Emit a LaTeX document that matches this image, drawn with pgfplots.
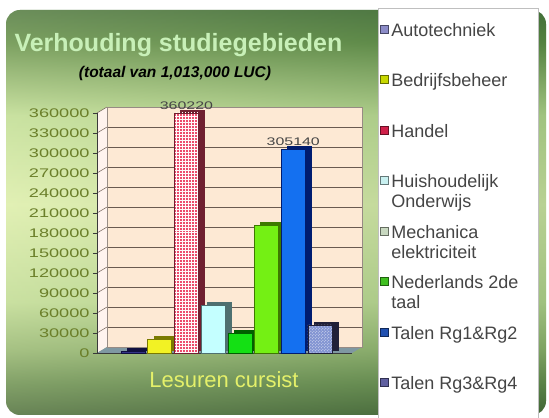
\documentclass[border=0pt]{standalone}
\usepackage{fontspec}
\setmainfont{Liberation Sans}
\newfontfamily\stretchfont{Liberation Sans}[FakeStretch=1.45]
\usepackage{pgfplots}
\pgfplotsset{compat=1.18}
\usetikzlibrary{patterns}

\definecolor{c0}{HTML}{3A5C30}
\definecolor{c1}{HTML}{5E8449}
\definecolor{c2}{HTML}{8CAE6C}
\definecolor{c3}{HTML}{BCD894}
\definecolor{c4}{HTML}{DCEDAE}
\definecolor{c5}{HTML}{BCDA94}
\definecolor{c6}{HTML}{84AA66}
\definecolor{c7}{HTML}{55833F}
\definecolor{c8}{HTML}{3F6A36}
\pgfdeclareverticalshading{bgshade}{100bp}{color(0bp)=(c0); color(25bp)=(c0); color(29bp)=(c1); color(33bp)=(c2); color(39bp)=(c3); color(51bp)=(c4); color(62bp)=(c5); color(67bp)=(c6); color(71bp)=(c7); color(75bp)=(c8); color(100bp)=(c8)}
\definecolor{bgleft}{HTML}{F2FAC8}
\definecolor{bgright}{HTML}{4E7E42}
\definecolor{wallc}{HTML}{FDE9D4}
\definecolor{sidewall}{HTML}{FFF3EE}
\definecolor{gridc}{HTML}{6A5A50}
\definecolor{floorc}{HTML}{7F98A2}
\definecolor{axisc}{HTML}{3A3A3A}
\definecolor{tickc}{HTML}{6B7F2A}
\definecolor{titlec}{HTML}{C8F0B8}
\definecolor{xlabc}{HTML}{E4F06A}
\definecolor{legtext}{HTML}{454545}
% bar fronts
\definecolor{f1}{HTML}{343488}
\definecolor{f2}{HTML}{F2F224}
\definecolor{f3}{HTML}{EC4C6C}
\definecolor{f4}{HTML}{C4FFFF}
\definecolor{f5}{HTML}{14E014}
\definecolor{f6}{HTML}{74F014}
\definecolor{f7}{HTML}{1470F0}
\definecolor{f8}{HTML}{8294D2}
% bar sides
\definecolor{s1}{HTML}{101040}
\definecolor{s2}{HTML}{7A7A00}
\definecolor{s3}{HTML}{702030}
\definecolor{s4}{HTML}{4E7070}
\definecolor{s5}{HTML}{006000}
\definecolor{s6}{HTML}{3E7A00}
\definecolor{s7}{HTML}{001C70}
\definecolor{s8}{HTML}{202038}
% legend swatches
\definecolor{l1}{HTML}{8C8CC8}
\definecolor{l2}{HTML}{C8D800}
\definecolor{l3}{HTML}{D0204A}
\definecolor{l4}{HTML}{C8F0F0}
\definecolor{l5}{HTML}{C8D8C0}
\definecolor{l6}{HTML}{40C020}
\definecolor{l7}{HTML}{2050B0}
\definecolor{l8}{HTML}{6060A0}

\begin{document}
\begin{tikzpicture}
\path[use as bounding box] (0bp,0bp) rectangle (549bp,418bp);
\fill[white] (0bp,0bp) rectangle (549bp,418bp);
% green background
\shade[shading=bgshade, rounded corners=14bp] (6bp,3bp) rectangle (546bp,408bp);
\shade[left color=bgleft, right color=bgright, opacity=0.25, rounded corners=14bp] (6bp,3bp) rectangle (546bp,408bp);
% legend box
\fill[white] (378bp,0bp) rectangle (538bp,410bp);
\draw[gray!50, line width=0.5bp] (378bp,0bp) -- (378bp,410bp) -- (538bp,410bp) -- (538bp,0bp);
% side wall and floor
\fill[sidewall] (97bp,65bp) -- (107bp,71bp) -- (107bp,311bp) -- (97bp,305bp) -- cycle;
\foreach \k in {1,...,12} {
  \draw[gridc, line width=0.5bp] (97bp,65bp+20bp*\k) -- (107bp,71bp+20bp*\k);
}
\fill[floorc] (97bp,65bp) -- (352bp,65bp) -- (362bp,71bp) -- (107bp,71bp) -- cycle;

% back wall with grid
\begin{axis}[
  at={(107bp,71bp)}, anchor=south west, scale only axis,
  width=255bp, height=240bp,
  xmin=0, xmax=1, ymin=0, ymax=360000,
  xtick=\empty, ytick={0,30000,...,360000}, yticklabels={},
  scaled y ticks=false,
  major tick length=0pt,
  ymajorgrids, grid style={draw=gridc, line width=0.6bp},
  axis background/.style={fill=wallc},
  axis line style={draw=gridc!70, line width=0.5bp},
]
\addplot[draw=none] coordinates {(0,0)};
\end{axis}

% main axis with bars
\begin{axis}[
  at={(97bp,65bp)}, anchor=south west, scale only axis,
  width=255bp, height=240bp,
  xmin=-0.35, xmax=9.2, ymin=0, ymax=360000,
  axis x line*=bottom, axis y line*=left,
  axis line style={-, draw=axisc, line width=0.8bp},
  xtick=\empty,
  ytick={0,30000,...,360000},
  tick align=outside, major tick length=4bp,
  tick style={draw=axisc, line width=0.6bp},
  scaled y ticks=false,
  yticklabel style={font=\stretchfont\fontsize{12.5bp}{13bp}\selectfont, text=tickc,
    /pgf/number format/fixed, /pgf/number format/1000 sep={},
    /pgf/number format/assume math mode=true},
  ybar, bar width=24bp, bar shift=0pt, clip=false,
  legend style={at={(axis description cs:1.110,1.3875)}, anchor=north west,
    draw=none, fill=none, inner sep=0pt,
    font=\fontsize{18bp}{20bp}\selectfont, text=legtext,
    nodes={align=left, inner xsep=3bp},
    row sep=11bp, legend cell align=left},
  legend image code/.code={\path[draw=none, fill=none] (0bp,0bp) (8bp,0bp); \draw[#1, line width=0.6bp, overlay] (0bp,7bp) rectangle (8bp,15bp);},
]
% side/depth faces
\addplot[fill=s1, draw=s1, xshift=6bp, yshift=3bp, forget plot] coordinates {(1,2500)};
\addplot[fill=s2, draw=s2, xshift=6bp, yshift=3bp, forget plot] coordinates {(2,20000)};
\addplot[fill=s3, draw=s3, xshift=6bp, yshift=3bp, forget plot] coordinates {(3,360220)};
\addplot[fill=s4, draw=s4, xshift=6bp, yshift=3bp, forget plot] coordinates {(4,72000)};
\addplot[fill=s5, draw=s5, xshift=6bp, yshift=3bp, forget plot] coordinates {(5,30000)};
\addplot[fill=s6, draw=s6, xshift=6bp, yshift=3bp, forget plot] coordinates {(6,192000)};
\addplot[fill=s7, draw=s7, xshift=6bp, yshift=3bp, forget plot] coordinates {(7,305140)};
\addplot[fill=s8, draw=s8, xshift=6bp, yshift=3bp, forget plot] coordinates {(8,42000)};
% front faces
\addplot[fill=f1, draw=s1, line width=0.6bp, forget plot] coordinates {(1,2500)};
\addplot[fill=f2, draw=s2, line width=0.6bp, forget plot] coordinates {(2,20000)};
\addplot[fill=f3, draw=s3, line width=0.6bp, postaction={pattern=grid, pattern color=white!90!pink}, forget plot,
  nodes near coords, nodes near coords style={font=\stretchfont\fontsize{11bp}{12bp}\selectfont, text=legtext,
    /pgf/number format/fixed, /pgf/number format/1000 sep={}, /pgf/number format/assume math mode=true}] coordinates {(3,360220)};
\addplot[fill=f4, draw=s4, line width=0.6bp, forget plot] coordinates {(4,72000)};
\addplot[fill=f5, draw=s5, line width=0.6bp, forget plot] coordinates {(5,30000)};
\addplot[fill=f6, draw=s6, line width=0.6bp, forget plot] coordinates {(6,192000)};
\addplot[fill=f7, draw=s7, line width=0.6bp, forget plot,
  nodes near coords, nodes near coords style={font=\stretchfont\fontsize{11bp}{12bp}\selectfont, text=legtext,
    /pgf/number format/fixed, /pgf/number format/1000 sep={}, /pgf/number format/assume math mode=true}] coordinates {(7,305140)};
\addplot[fill=f8, draw=s8, line width=0.6bp, postaction={pattern=crosshatch dots, pattern color=white!80!f8}, forget plot] coordinates {(8,42000)};
% legend
\addlegendimage{fill=l1, draw=l1!50!black}
\addlegendentry{Autotechniek\strut\\\strut}
\addlegendimage{fill=l2, draw=l2!50!black}
\addlegendentry{Bedrijfsbeheer\strut\\\strut}
\addlegendimage{fill=l3, draw=l3!50!black}
\addlegendentry{Handel\strut\\\strut}
\addlegendimage{fill=l4, draw=l4!50!black}
\addlegendentry{Huishoudelijk\strut\\Onderwijs\strut}
\addlegendimage{fill=l5, draw=l5!50!black}
\addlegendentry{Mechanica\strut\\elektriciteit\strut}
\addlegendimage{fill=l6, draw=l6!50!black}
\addlegendentry{Nederlands 2de\strut\\taal\strut}
\addlegendimage{fill=l7, draw=l7!50!black}
\addlegendentry{Talen Rg1\&Rg2\strut\\\strut}
\addlegendimage{fill=l8, draw=l8!50!black}
\addlegendentry{Talen Rg3\&Rg4\strut\\\strut}
\end{axis}

% titles
\node[anchor=west, font=\fontsize{25bp}{28bp}\selectfont\bfseries, text=titlec] at (11bp,373bp) {Verhouding studiegebieden};
\node[font=\fontsize{15.5bp}{17bp}\selectfont\bfseries\itshape, text=black] at (175bp,345bp) {(totaal van 1,013,000 LUC)};
\node[font=\fontsize{22bp}{24bp}\selectfont, text=xlabc] at (224bp,38bp) {Lesuren cursist};
\end{tikzpicture}
\end{document}
